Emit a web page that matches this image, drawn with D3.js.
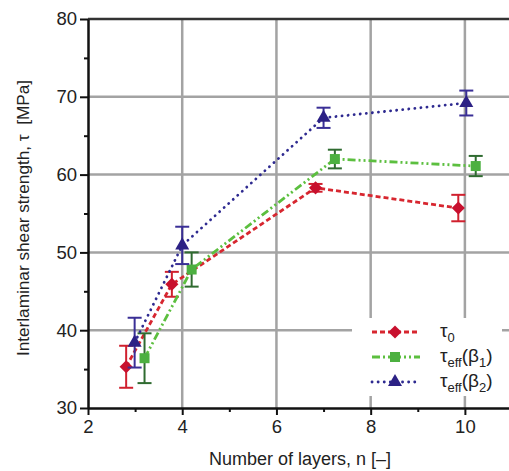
<!DOCTYPE html>
<meta charset="utf-8">
<script src="https://d3js.org/d3.v7.min.js"></script>
<style>
  body { margin: 0; background: #fff; }
  text { font-family: "Liberation Sans", Arial, sans-serif; }
</style>
<div id="chart"></div>
<script>

// number of layers for each series (points are staggered slightly)
var nTau0 = [2.81, 3.78, 6.83, 9.86];
var nB1   = [3.2, 4.2, 7.24, 10.23];
var nB2   = [2.99, 4.0, 7.0, 10.03];

// mean values [MPa]
var tau0 = [35.3, 45.9, 58.3, 55.7];
var tauB1 = [36.4, 47.8, 62.0, 61.1];
var tauB2 = [38.4, 50.9, 67.3, 69.2];

// error bar half-widths
var errTau0 = [2.7, 1.6, 0.5, 1.7];
var errB1 = [3.2, 2.2, 1.2, 1.3];
var errB2 = [3.2, 2.4, 1.3, 1.6];

var xTicks = [2, 4, 6, 8, 10];
var xMinor = [3, 5, 7, 9];
var yTicks = [30, 40, 50, 60, 70, 80];
var yMinor = [35, 45, 55, 65, 75];

var W = 509, H = 471;
var svg = d3.select("#chart").append("svg")
  .attr("width", W)
  .attr("height", H);

var x = d3.scaleLinear().domain([2, 11]).range([88, 512]);
var y = d3.scaleLinear().domain([30, 80]).range([408, 19]);

// grid
var grid = svg.append("g").attr("stroke", "#a3a3a3").attr("stroke-width", 2.5);
grid.selectAll("line.gx")
  .data(xTicks.slice(1))
  .enter().append("line")
    .attr("x1", d => x(d)).attr("x2", d => x(d))
    .attr("y1", y(80)).attr("y2", y(30));
grid.selectAll("line.gy")
  .data(yTicks.slice(1, -1))
  .enter().append("line")
    .attr("x1", x(2)).attr("x2", W)
    .attr("y1", d => y(d)).attr("y2", d => y(d));

// top frame line
svg.append("line")
  .attr("x1", x(2)).attr("x2", W)
  .attr("y1", y(80)).attr("y2", y(80))
  .attr("stroke", "#333").attr("stroke-width", 2.5);

// axes
svg.append("g")
  .attr("transform", "translate(0," + y(30) + ")")
  .call(d3.axisBottom(x).tickValues(xTicks).tickSize(7).tickPadding(5).tickSizeOuter(0));
svg.append("g")
  .attr("transform", "translate(0," + y(30) + ")")
  .call(d3.axisBottom(x).tickValues(xMinor).tickSize(4).tickFormat("").tickSizeOuter(0))
  .select(".domain").remove();

svg.append("g")
  .attr("transform", "translate(" + x(2) + ",0)")
  .call(d3.axisLeft(y).tickValues(yTicks).tickSize(8).tickPadding(3).tickSizeOuter(0));
svg.append("g")
  .attr("transform", "translate(" + x(2) + ",0)")
  .call(d3.axisLeft(y).tickValues(yMinor).tickSize(4).tickFormat("").tickSizeOuter(0))
  .select(".domain").remove();

svg.selectAll(".domain").attr("stroke", "#111").attr("stroke-width", 2.5);
svg.selectAll(".tick line").attr("stroke", "#111").attr("stroke-width", 2);
svg.selectAll(".tick text")
  .attr("fill", "#222")
  .style("font-size", "18.5px")
  .style("font-family", "'Liberation Sans', Arial, sans-serif");

// axis titles
svg.append("text")
  .attr("x", 300).attr("y", 465)
  .attr("text-anchor", "middle")
  .style("font-size", "18px")
  .attr("fill", "#222")
  .text("Number of layers, n [\u2013]");

svg.append("text")
  .attr("transform", "translate(29,218) rotate(-90)")
  .attr("text-anchor", "middle")
  .style("font-size", "17.2px")
  .attr("fill", "#222")
  .text("Interlaminar shear strength, \u03c4 \u00a0[MPa]");

var series = [
  {n: nTau0, v: tau0, e: errTau0, line: "#d7262f", mark: "#c8102e", bar: "#d0202e",
   dash: "5,3", cap: "butt", shape: d3.symbolDiamond2, size: 110},
  {n: nB1, v: tauB1, e: errB1, line: "#5cbf3f", mark: "#4cb040", bar: "#2f6b30",
   dash: "8,3,2,3,2,3", cap: "butt", shape: d3.symbolSquare, size: 100},
  {n: nB2, v: tauB2, e: errB2, line: "#2e2a90", mark: "#2c2185", bar: "#3a2f96",
   dash: "0.1,6", cap: "round", shape: d3.symbolTriangle, size: 85}
];

var line = d3.line().x(d => x(d[0])).y(d => y(d[1]));

series.forEach(function(s) {
  var pts = s.n.map((n, i) => [n, s.v[i], s.e[i]]);
  svg.append("path")
    .datum(pts)
    .attr("d", line)
    .attr("fill", "none")
    .attr("stroke", s.line)
    .attr("stroke-width", 2.8)
    .attr("stroke-linecap", s.cap)
    .attr("stroke-dasharray", s.dash);

  var eb = svg.append("g").attr("stroke", s.bar).attr("stroke-width", 2);
  pts.forEach(function(p) {
    eb.append("line")
      .attr("x1", x(p[0])).attr("x2", x(p[0]))
      .attr("y1", y(p[1] - p[2])).attr("y2", y(p[1] + p[2]));
    [p[1] - p[2], p[1] + p[2]].forEach(function(v) {
      eb.append("line")
        .attr("x1", x(p[0]) - 7).attr("x2", x(p[0]) + 7)
        .attr("y1", y(v)).attr("y2", y(v));
    });
  });

  svg.append("g").selectAll("path")
    .data(pts)
    .enter().append("path")
      .attr("transform", d => "translate(" + x(d[0]) + "," + y(d[1]) + ")")
      .attr("d", d3.symbol().type(s.shape).size(s.size))
      .attr("fill", s.mark);
});

// legend
var leg = svg.append("g");
leg.append("rect")
  .attr("x", 352).attr("y", 318).attr("width", 150).attr("height", 78)
  .attr("fill", "#fff");

var labels = [
  ["\u03c4", "0", "", ""],
  ["\u03c4", "eff", "(\u03b2", "1"],
  ["\u03c4", "eff", "(\u03b2", "2"]
];
series.forEach(function(s, i) {
  var ly = 332 + i * 25;
  leg.append("line")
    .attr("x1", 372).attr("x2", 420)
    .attr("y1", ly).attr("y2", ly)
    .attr("stroke", s.line).attr("stroke-width", 2.8)
    .attr("stroke-linecap", s.cap)
    .attr("stroke-dasharray", s.dash);
  leg.append("path")
    .attr("transform", "translate(395," + ly + ")")
    .attr("d", d3.symbol().type(s.shape).size(s.size))
    .attr("fill", s.mark);
  var t = leg.append("text")
    .attr("x", 440).attr("y", ly + 5)
    .style("font-size", "19px")
    .attr("fill", "#222");
  var l = labels[i];
  t.append("tspan").text(l[0]);
  t.append("tspan").attr("dy", 5).style("font-size", "13px").text(l[1]);
  if (l[2]) {
    t.append("tspan").attr("dy", -5).text(l[2]);
    t.append("tspan").attr("dy", 5).style("font-size", "13px").text(l[3]);
    t.append("tspan").attr("dy", -5).text(")");
  }
});

</script>
